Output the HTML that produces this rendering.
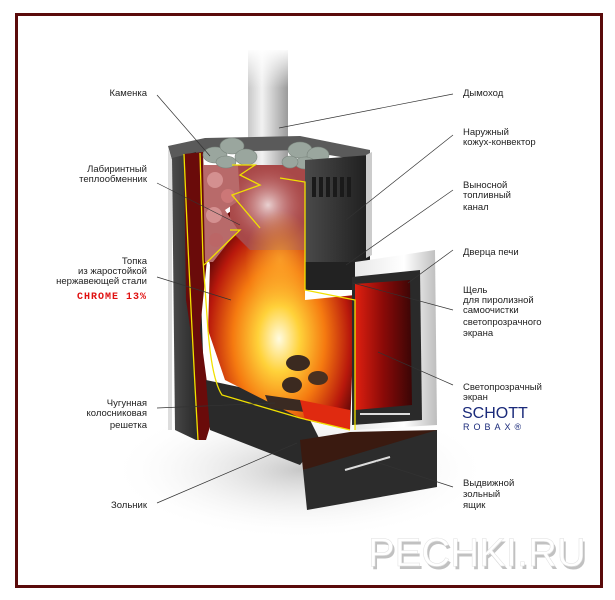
<!DOCTYPE html>
<html><head><meta charset="utf-8"><style>
html,body{margin:0;padding:0;background:#fff;}
svg{display:block}
text{font-family:"Liberation Sans","DejaVu Sans",sans-serif;font-size:9.5px;fill:#222}
</style></head><body>
<svg width="615" height="600" viewBox="0 0 615 600" xmlns="http://www.w3.org/2000/svg">
<defs>
<linearGradient id="pipe" x1="0" x2="1"><stop offset="0" stop-color="#c8c8c8"/><stop offset=".35" stop-color="#f2f2f2"/><stop offset="1" stop-color="#9a9a9a"/></linearGradient>
<linearGradient id="pipefade" x1="0" y1="0" x2="0" y2="1"><stop offset="0" stop-color="#fff" stop-opacity="1"/><stop offset="1" stop-color="#fff" stop-opacity="0"/></linearGradient>
<radialGradient id="fire" cx=".5" cy=".62" r=".55"><stop offset="0" stop-color="#fffbe0"/><stop offset=".25" stop-color="#ffd23a"/><stop offset=".55" stop-color="#f57a10"/><stop offset=".85" stop-color="#b8180c"/><stop offset="1" stop-color="#6a0a08"/></radialGradient>
<radialGradient id="glow" cx=".5" cy=".5" r=".5"><stop offset="0" stop-color="#ffb030" stop-opacity=".7"/><stop offset="1" stop-color="#ffb030" stop-opacity="0"/></radialGradient>
<linearGradient id="glass" x1="0" x2="1"><stop offset="0" stop-color="#e02010"/><stop offset=".5" stop-color="#8a0a08"/><stop offset="1" stop-color="#3a0606"/></linearGradient>
<linearGradient id="silver" x1="0" x2="1"><stop offset="0" stop-color="#e8e8e8"/><stop offset=".6" stop-color="#ffffff"/><stop offset="1" stop-color="#bdbdbd"/></linearGradient>
<linearGradient id="dark" x1="0" x2="1"><stop offset="0" stop-color="#4a4a4a"/><stop offset="1" stop-color="#1e1e1e"/></linearGradient>
<radialGradient id="shadow" cx=".5" cy=".5" r=".5"><stop offset="0" stop-color="#c8c8c8"/><stop offset="1" stop-color="#fff" stop-opacity="0"/></radialGradient>
<radialGradient id="smoke" cx=".5" cy=".5" r=".5"><stop offset="0" stop-color="#f0e0e0" stop-opacity=".9"/><stop offset="1" stop-color="#c06060" stop-opacity="0"/></radialGradient>
</defs>
<rect x="0" y="0" width="615" height="600" fill="#fff"/>
<ellipse cx="300" cy="470" rx="190" ry="70" fill="url(#shadow)"/>
<rect x="248" y="50" width="40" height="130" fill="url(#pipe)"/>
<rect x="246" y="48" width="44" height="40" fill="url(#pipefade)"/>
<polygon points="168,146 205,138 300,136 370,150 370,162 300,150 205,152 172,160" fill="#5a5a5a"/>
<polygon points="168,148 172,160 172,430 168,430" fill="#ddd"/>
<polygon points="172,158 196,152 206,440 196,440 175,430" fill="url(#dark)"/>
<path d="M184,154 L203,152 L207,260 L200,330 L212,420 L206,440 L198,440 Q196,360 186,300 Z" fill="#6a0b0a"/>
<polygon points="206,380 300,400 320,440 300,465 210,430" fill="#2a2a2a"/>
<path d="M203,230 L240,205 L305,190 L305,300 L355,295 L350,430 L300,418 L225,380 L208,330 L210,265 Z" fill="url(#fire)"/>
<path d="M230,165 L305,165 L305,250 L250,250 L230,230 Z" fill="#a84848"/>
<ellipse cx="268" cy="205" rx="40" ry="40" fill="url(#smoke)"/>
<ellipse cx="280" cy="260" rx="35" ry="50" fill="url(#glow)"/>
<path d="M203,165 L238,165 L240,200 L225,210 L238,230 L213,262 L205,262 Z" fill="#b86a6a"/>
<circle cx="215" cy="180" r="8" fill="#d49090"/><circle cx="228" cy="196" r="7" fill="#c77"/><circle cx="214" cy="215" r="8" fill="#d49090"/><circle cx="216" cy="240" r="7" fill="#b66"/>
<g fill="#9aa69e" stroke="#7a857d" stroke-width=".6">
<ellipse cx="215" cy="155" rx="12" ry="8"/><ellipse cx="232" cy="146" rx="12" ry="8"/><ellipse cx="246" cy="157" rx="11" ry="8"/><ellipse cx="226" cy="162" rx="10" ry="6"/>
<ellipse cx="300" cy="150" rx="12" ry="8"/><ellipse cx="318" cy="155" rx="11" ry="8"/><ellipse cx="305" cy="163" rx="10" ry="6"/><ellipse cx="290" cy="162" rx="8" ry="6"/>
</g>
<polygon points="305,160 370,155 370,290 305,290" fill="url(#dark)"/>
<polygon points="366,155 372,152 372,255 366,258" fill="#ccc"/>
<g fill="#1a1a1a"><rect x="312" y="177" width="4" height="20"/><rect x="319" y="177" width="4" height="20"/><rect x="326" y="177" width="4" height="20"/><rect x="333" y="177" width="4" height="20"/><rect x="340" y="177" width="4" height="20"/><rect x="347" y="177" width="4" height="20"/></g>
<polygon points="305,262 355,262 355,290 305,290" fill="#222"/>
<polygon points="355,262 435,250 437,425 355,430" fill="url(#silver)"/>
<polygon points="352,277 420,270 422,420 352,425" fill="#2a2a2a"/>
<polygon points="355,284 410,280 412,405 355,410" fill="url(#glass)"/>
<rect x="360" y="413" width="50" height="2" fill="#ddd"/>
<polygon points="265,395 300,400 305,412 270,408" fill="#3a2a22"/>
<polygon points="300,400 350,410 350,430 305,420" fill="#e02a10"/>
<ellipse cx="298" cy="363" rx="12" ry="8" fill="#3b2a20"/><ellipse cx="292" cy="385" rx="10" ry="8" fill="#3b2a20"/><ellipse cx="318" cy="378" rx="10" ry="7" fill="#4a3020"/>
<polygon points="300,440 350,432 437,430 437,440 303,470" fill="#3a1a10"/>
<polygon points="303,470 437,430 437,487 307,510" fill="#2c2c2c"/>
<line x1="345" y1="470" x2="390" y2="457" stroke="#ddd" stroke-width="2"/>
<g fill="none" stroke="#f0e000" stroke-width="1.3">
<path d="M184,154 Q190,300 198,440"/>
<path d="M200,153 L203,260 L208,330 Q212,380 222,395 L300,418"/>
<path d="M204,265 L240,230 L230,230"/>
<path d="M232,165 L255,165 L240,175 L260,185 L232,195 L260,228"/>
<path d="M280,178 L305,182 L305,290 L355,300 L355,430"/>
<path d="M300,418 L350,430"/>
</g>
<g stroke="#333" stroke-width=".7" fill="none">
<line x1="157" y1="95" x2="210" y2="156"/>
<line x1="157" y1="183" x2="240" y2="225"/>
<line x1="157" y1="277" x2="231" y2="300"/>
<line x1="157" y1="408" x2="275" y2="403"/>
<line x1="157" y1="503" x2="297" y2="443"/>
<line x1="453" y1="94" x2="279" y2="128"/>
<line x1="453" y1="135" x2="346" y2="220"/>
<line x1="453" y1="190" x2="346" y2="265"/>
<line x1="453" y1="250" x2="408" y2="283"/>
<line x1="453" y1="310" x2="353" y2="283"/>
<line x1="453" y1="385" x2="378" y2="352"/>
<line x1="453" y1="487" x2="376" y2="462"/>
</g>
<g text-anchor="end">
<text x="147" y="96">Каменка</text>
<text x="147" y="172">Лабиринтный</text>
<text x="147" y="182">теплообменник</text>
<text x="147" y="264">Топка</text>
<text x="147" y="274">из жаростойкой</text>
<text x="147" y="284">нержавеющей стали</text>
<text x="147" y="299" style="fill:#e01010;font-weight:bold;font-family:'Liberation Mono',monospace;font-size:10px;letter-spacing:1px">CHROME 13%</text>
<text x="147" y="406">Чугунная</text>
<text x="147" y="416">колосниковая</text>
<text x="147" y="428">решетка</text>
<text x="147" y="508">Зольник</text>
</g>
<g>
<text x="463" y="96">Дымоход</text>
<text x="463" y="135">Наружный</text>
<text x="463" y="145">кожух-конвектор</text>
<text x="463" y="188">Выносной</text>
<text x="463" y="198">топливный</text>
<text x="463" y="210">канал</text>
<text x="463" y="255">Дверца печи</text>
<text x="463" y="293">Щель</text>
<text x="463" y="303">для пиролизной</text>
<text x="463" y="313">самоочистки</text>
<text x="463" y="325">светопрозрачного</text>
<text x="463" y="336">экрана</text>
<text x="463" y="390">Светопрозрачный</text>
<text x="463" y="400">экран</text>
<text x="462" y="418" style="fill:#1a2a7a;font-size:16px">SCHOTT</text>
<text x="463" y="430" style="fill:#1a2a7a;font-size:9px;letter-spacing:4px">ROBAX®</text>
<text x="463" y="486">Выдвижной</text>
<text x="463" y="497">зольный</text>
<text x="463" y="508">ящик</text>
</g>
<text x="368" y="566" style="font-size:40px;fill:#999;opacity:.6" transform="translate(2,3)">PECHKI.RU</text>
<text x="368" y="566" style="font-size:40px;fill:#fff;stroke:#e0e0e0;stroke-width:.5">PECHKI.RU</text>
<rect x="16.5" y="14.5" width="585" height="572" fill="none" stroke="#5a0a0a" stroke-width="3"/>
</svg>
</body></html>
